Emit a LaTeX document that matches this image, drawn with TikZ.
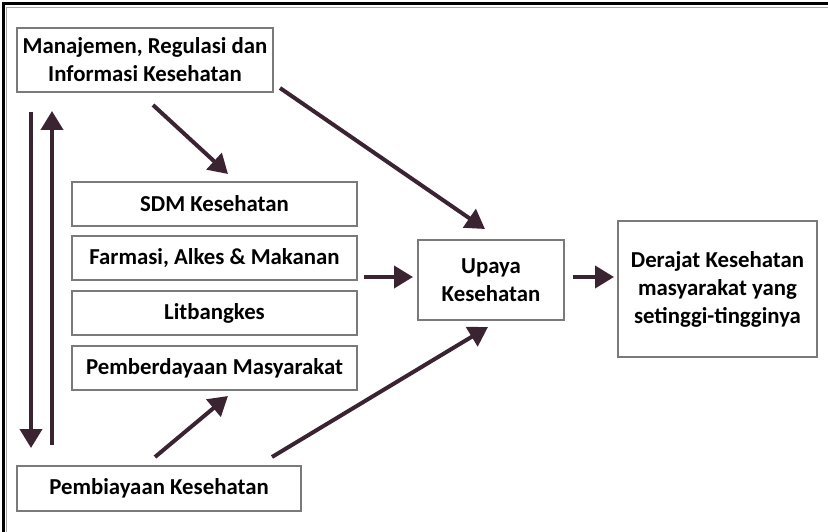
\documentclass[tikz,border=0pt]{standalone}
\usepackage{fontspec}
\setmainfont{Carlito}
\usetikzlibrary{arrows.meta}
\definecolor{arrowc}{HTML}{3B2432}
\definecolor{boxc}{HTML}{7A7A7A}
\tikzset{
  box/.style={draw=boxc, line width=1.4pt, inner sep=0pt, align=center,
    font=\fontsize{22.8}{28}\selectfont\bfseries},
  flow/.style={draw=arrowc, line width=4pt,
    -{Triangle[length=19pt,width=22pt]}},
}
\begin{document}
\begin{tikzpicture}[x=1pt,y=-1pt]
\useasboundingbox (0,0) rectangle (828,532);
% frame along the top and left edges
\draw[black, line width=3pt] (3,532) -- (3,4) -- (828,4);
\draw[gray!70, line width=1pt] (6.5,532) -- (6.5,7.5) -- (828,7.5);

% boxes
\node[box, minimum width=256pt, minimum height=64pt] (mgmt) at (145,60)
  {Manajemen, Regulasi dan\\Informasi Kesehatan};
\node[box, minimum width=285pt, minimum height=44pt] (sdm) at (214.5,204) {SDM Kesehatan};
\node[box, minimum width=285pt, minimum height=44pt] (farm) at (214.5,258) {Farmasi, Alkes \& Makanan};
\node[box, minimum width=285pt, minimum height=44pt] (lit) at (214.5,313) {Litbangkes};
\node[box, minimum width=285pt, minimum height=44pt] (pem) at (214.5,368) {Pemberdayaan Masyarakat};
\node[box, minimum width=284pt, minimum height=45pt] (biaya) at (159,488.5) {Pembiayaan Kesehatan};
\node[box, minimum width=146pt, minimum height=80pt] (upaya) at (491,280) {Upaya\\Kesehatan};
\node[box, minimum width=199pt, minimum height=136pt] (derajat) at (717.5,289)
  {Derajat Kesehatan\\masyarakat yang\\setinggi-tingginya};

% arrow end points
\coordinate (m1) at (153,105);   \coordinate (s1) at (228,174);
\coordinate (m2) at (280,88);    \coordinate (u1) at (485,229);
\coordinate (f1) at (364,277);   \coordinate (u2) at (413,277);
\coordinate (u3) at (573,277);   \coordinate (d1) at (614,277);
\coordinate (b1) at (272,457);   \coordinate (u4) at (488,327);
\coordinate (b2) at (155,457);   \coordinate (p1) at (228,396);
\coordinate (v1) at (31,112);    \coordinate (v2) at (31,448);
\coordinate (v3) at (52,445);    \coordinate (v4) at (52,111);

% arrows
\draw[flow] (m1) -- (s1);
\draw[flow] (m2) -- (u1);
\draw[flow] (f1) -- (u2);
\draw[flow] (u3) -- (d1);
\draw[flow] (b1) -- (u4);
\draw[flow] (b2) -- (p1);
\draw[flow] (v1) -- (v2);
\draw[flow] (v3) -- (v4);
\end{tikzpicture}
\end{document}
